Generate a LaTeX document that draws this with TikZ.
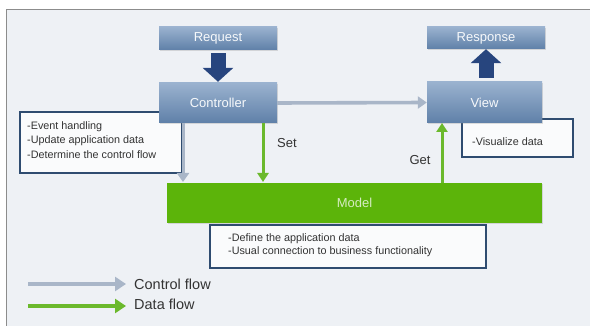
\documentclass[tikz,border=0pt]{standalone}
\usepackage{fontspec}
\setmainfont{Liberation Sans}
\usetikzlibrary{arrows.meta,shadows}
\definecolor{bg}{HTML}{EEF1F5}
\definecolor{frame}{HTML}{8C8C8C}
\definecolor{boxtop}{HTML}{9AB2CF}
\definecolor{boxbot}{HTML}{5F80A8}
\definecolor{navy}{HTML}{27457E}
\definecolor{ctrlgray}{HTML}{A9B6C8}
\definecolor{datagreen}{HTML}{6BB92C}
\definecolor{modelgreen}{HTML}{5CB40A}
\definecolor{descborder}{HTML}{2F4C70}
\tikzset{
  bluebox/.style={rectangle, top color=boxtop, bottom color=boxbot, draw=none,
    text=white!92!boxtop, font=\fontsize{13}{15}\selectfont, inner sep=0pt,
    drop shadow={shadow xshift=1pt, shadow yshift=-1pt, opacity=0.25}},
  descbox/.style={rectangle, draw=descborder, line width=1.5pt, fill=white!70!bg,
    inner sep=0pt},
  desctext/.style={font=\fontsize{10.8}{12}\selectfont, text=black!80, anchor=west, inner sep=0pt},
  ctrlarrow/.style={draw=ctrlgray, line width=3.6pt, -{Triangle[length=9pt,width=12pt]}},
  dataarrow/.style={draw=datagreen, line width=3pt, -{Triangle[length=9pt,width=11pt]}},
  legarrow/.style={line width=4.5pt},
  bigarrow/.style={draw=navy, line width=15pt, -{Triangle[length=14pt,width=30pt]}},
  lbl/.style={font=\fontsize{13}{15}\selectfont, text=black!80, inner sep=0pt},
}
\begin{document}
\begin{tikzpicture}[x=1pt,y=-1pt]
\useasboundingbox (0,0) rectangle (590,326);
\fill[white] (0,0) rectangle (590,326);
\fill[bg] (6,9) rectangle (590,326);
\draw[frame, line width=0.8pt] (6,326) -- (6,9) -- (590,9);

% description boxes (behind)
\node[descbox, minimum width=162pt, minimum height=61pt] (cdesc) at (101,142.5) {};
\node[desctext] (cd1) at (27,127) {-Event handling};
\node[desctext] (cd2) at (27,141) {-Update application data};
\node[desctext] (cd3) at (27,155) {-Determine the control flow};

\node[descbox, minimum width=111pt, minimum height=38pt] (vdesc) at (517.5,138) {};
\node[desctext] (vd1) at (472,142) {-Visualize data};

\node[descbox, minimum width=276pt, minimum height=43pt] (mdesc) at (348,246.5) {};
\node[desctext] (md1) at (228,239) {-Define the application data};
\node[desctext] (md2) at (228,252) {-Usual connection to business functionality};

% main boxes
\node[bluebox, minimum width=118pt, minimum height=23pt] (req) at (218,38.5) {Request};
\node[bluebox, minimum width=118pt, minimum height=40pt] (ctrl) at (218,103) {Controller};
\node[bluebox, minimum width=118pt, minimum height=22pt] (resp) at (486,38) {Response};
\node[bluebox, minimum width=115pt, minimum height=41pt] (view) at (484.5,102.5) {View};
\node[rectangle, fill=modelgreen, minimum width=375pt, minimum height=40pt, inner sep=0pt,
  text=white!75!modelgreen, font=\fontsize{13}{15}\selectfont,
  drop shadow={shadow xshift=1pt, shadow yshift=-1pt, opacity=0.25}] (model) at (354.5,203) {Model};

% navy arrows
\draw[bigarrow, shorten <=3pt, shorten >=1pt] (req.south) -- (ctrl.north);
\draw[bigarrow, shorten <=4pt, shorten >=0pt] (view.north -| resp.south) -- (resp.south);

% control flow
\coordinate (c1) at (183,123);
\coordinate (c2) at (183,182);
\draw[ctrlarrow, line width=3pt] (c1) -- (c2);
\draw[ctrlarrow] (ctrl.east) -- (view.west);

% data flow
\coordinate (s1) at (263,123);
\coordinate (s2) at (263,182);
\draw[dataarrow] (s1) -- (s2);
\node[lbl] (set) at (287,143) {Set};
\coordinate (g1) at (442,183);
\coordinate (g2) at (442,123);
\draw[dataarrow] (g1) -- (g2);
\node[lbl] (get) at (420,160) {Get};

% legend
\coordinate (l1) at (28,284);
\coordinate (l2) at (126,284);
\coordinate (l3) at (28,306);
\coordinate (l4) at (126,306);
\draw[ctrlarrow, legarrow, -{Triangle[length=11pt,width=14pt]}] (l1) -- (l2);
\draw[dataarrow, legarrow, -{Triangle[length=11pt,width=14pt]}] (l3) -- (l4);
\node[lbl, anchor=west, font=\fontsize{14.5}{17}\selectfont] (lt1) at (134,284) {Control flow};
\node[lbl, anchor=west, font=\fontsize{14.5}{17}\selectfont] (lt2) at (134,304) {Data flow};
\end{tikzpicture}
\end{document}
